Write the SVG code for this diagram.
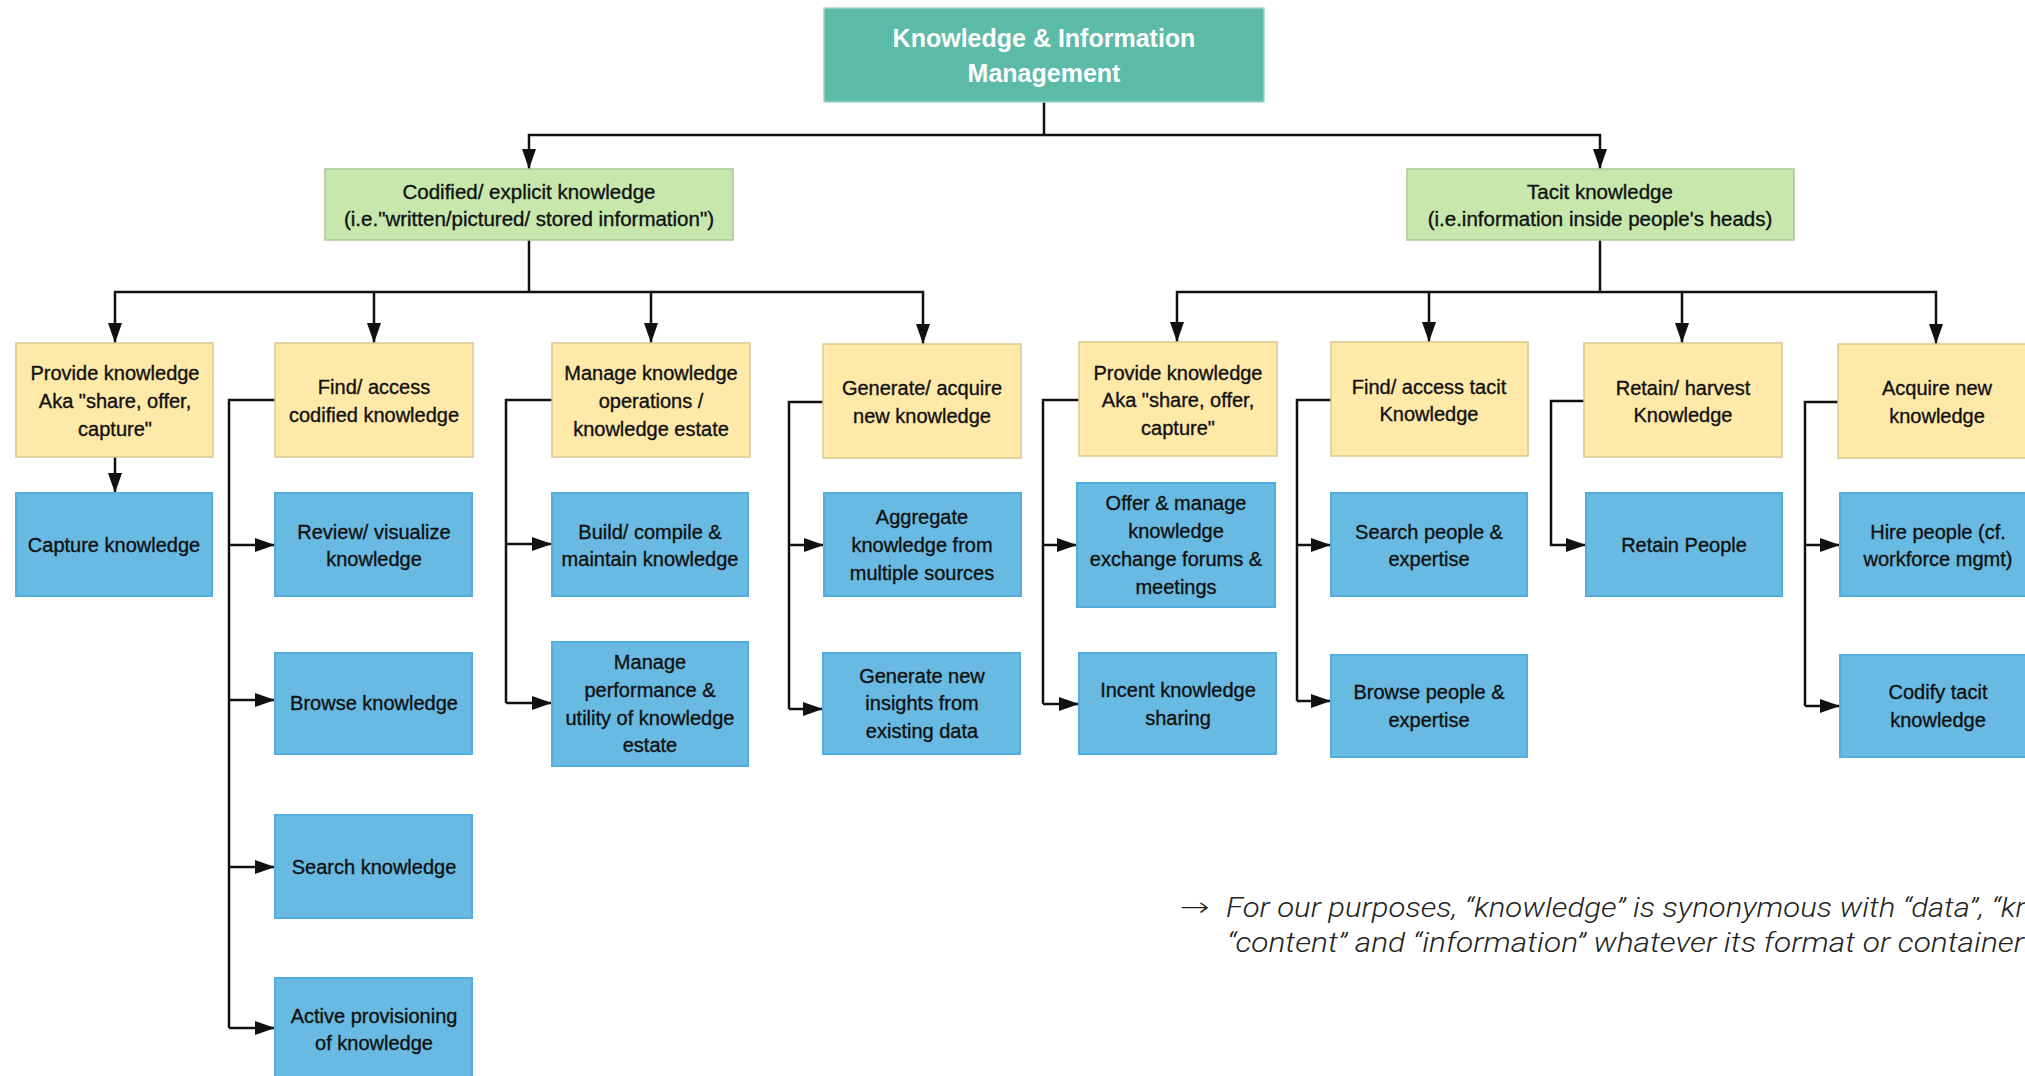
<svg xmlns="http://www.w3.org/2000/svg" width="2025" height="1076" viewBox="0 0 2025 1076">
<style>
.top{fill:#5BBBA7;stroke:#A9D2C8;stroke-width:1.5}
.grn{fill:#C6E8AC;stroke:#A9C996;stroke-width:1.5}
.yel{fill:#FFE9A8;stroke:#D9C790;stroke-width:1.5}
.blu{fill:#68BAE2;stroke:#52AEDC;stroke-width:2}
text{font-family:"Liberation Sans",Arial,sans-serif;font-size:20px;fill:#111;stroke:#111;stroke-width:0.35;text-anchor:middle}
.tt{font-size:25px;font-weight:bold;fill:#fff;stroke:none}
.gt{font-size:20.5px}
.note{font-family:Roboto,"Liberation Sans",sans-serif;font-size:28px;font-style:italic;font-weight:300;text-anchor:start;fill:#222;stroke:none}
.arr{font-family:"DejaVu Sans",sans-serif;font-size:26px;font-weight:300;text-anchor:start;fill:#222;stroke:none}
.c{fill:none;stroke:#111;stroke-width:2.5}
.a{fill:none;stroke:#111;stroke-width:2.5;marker-end:url(#ah)}
</style>
<defs>
<marker id="ah" markerUnits="userSpaceOnUse" markerWidth="20" markerHeight="14" refX="20" refY="7" orient="auto">
<path d="M0,0 L20,7 L0,14 z" fill="#111"/>
</marker>
</defs>
<rect width="2025" height="1076" fill="#fff"/>

<g id="connectors">
<path class="c" d="M1044,102 V135"/>
<path class="a" d="M1044,135 H529 V169"/>
<path class="a" d="M1044,135 H1600 V169"/>
<path class="c" d="M529,240 V292"/>
<path class="a" d="M529,292 H115 V343"/>
<path class="a" d="M374,292 V343"/>
<path class="a" d="M529,292 H651 V343"/>
<path class="a" d="M651,292 H923 V344"/>
<path class="c" d="M1600,240 V292"/>
<path class="a" d="M1600,292 H1177 V342"/>
<path class="a" d="M1429,292 V342"/>
<path class="a" d="M1600,292 H1682 V343"/>
<path class="a" d="M1682,292 H1936 V344"/>
<path class="a" d="M115,457 V493"/>
<path class="c" d="M275,400 H229 V1028"/>
<path class="a" d="M229,545 H275"/>
<path class="a" d="M229,700 H275"/>
<path class="a" d="M229,867 H275"/>
<path class="a" d="M229,1028 H275"/>
<path class="c" d="M552,400 H506 V703"/>
<path class="a" d="M506,544 H552"/>
<path class="a" d="M506,703 H552"/>
<path class="c" d="M823,402 H789 V709"/>
<path class="a" d="M789,545 H824"/>
<path class="a" d="M789,709 H823"/>
<path class="c" d="M1079,400 H1043 V704"/>
<path class="a" d="M1043,545 H1077"/>
<path class="a" d="M1043,704 H1079"/>
<path class="c" d="M1331,400 H1297 V701"/>
<path class="a" d="M1297,545 H1331"/>
<path class="a" d="M1297,701 H1331"/>
<path class="a" d="M1584,401 H1551 V545 H1586"/>
<path class="c" d="M1838,402 H1805 V706"/>
<path class="a" d="M1805,545 H1840"/>
<path class="a" d="M1805,706 H1840"/>
</g>

<g id="n-root"><rect class="top" x="824" y="8" width="440" height="94"/>
<text class="tt" x="1044" y="47">Knowledge &amp; Information</text>
<text class="tt" x="1044" y="82">Management</text></g>

<g id="n-codified"><rect class="grn" x="325" y="169" width="408" height="71"/>
<text class="gt" x="529" y="199">Codified/ explicit knowledge</text>
<text class="gt" x="529" y="226">(i.e."written/pictured/ stored information")</text></g>

<g id="n-tacit"><rect class="grn" x="1407" y="169" width="387" height="71"/>
<text class="gt" x="1600" y="199">Tacit knowledge</text>
<text class="gt" x="1600" y="226">(i.e.information inside people's heads)</text></g>

<g id="n-provide-c"><rect class="yel" x="16" y="343" width="197" height="114"/>
<text x="115" y="380">Provide knowledge</text>
<text x="115" y="408">Aka "share, offer,</text>
<text x="115" y="436">capture"</text></g>

<g id="n-find-c"><rect class="yel" x="275" y="343" width="198" height="114"/>
<text x="374" y="394">Find/ access</text>
<text x="374" y="422">codified knowledge</text></g>

<g id="n-manage-ops"><rect class="yel" x="552" y="343" width="198" height="114"/>
<text x="651" y="380">Manage knowledge</text>
<text x="651" y="408">operations /</text>
<text x="651" y="436">knowledge estate</text></g>

<g id="n-generate"><rect class="yel" x="823" y="344" width="198" height="114"/>
<text x="922" y="395">Generate/ acquire</text>
<text x="922" y="423">new knowledge</text></g>

<g id="n-provide-t"><rect class="yel" x="1079" y="342" width="198" height="114"/>
<text x="1178" y="380">Provide knowledge</text>
<text x="1178" y="407">Aka "share, offer,</text>
<text x="1178" y="435">capture"</text></g>

<g id="n-find-t"><rect class="yel" x="1331" y="342" width="197" height="114"/>
<text x="1429" y="394">Find/ access tacit</text>
<text x="1429" y="421">Knowledge</text></g>

<g id="n-retain-h"><rect class="yel" x="1584" y="343" width="198" height="114"/>
<text x="1683" y="395">Retain/ harvest</text>
<text x="1683" y="422">Knowledge</text></g>

<g id="n-acquire"><rect class="yel" x="1838" y="344" width="198" height="114"/>
<text x="1937" y="395">Acquire new</text>
<text x="1937" y="423">knowledge</text></g>

<g id="n-capture"><rect class="blu" x="16" y="493" width="196" height="103"/>
<text x="114" y="552">Capture knowledge</text></g>

<g id="n-review"><rect class="blu" x="275" y="493" width="197" height="103"/>
<text x="374" y="539">Review/ visualize</text>
<text x="374" y="566">knowledge</text></g>

<g id="n-browse-k"><rect class="blu" x="275" y="653" width="197" height="101"/>
<text x="374" y="710">Browse knowledge</text></g>

<g id="n-search-k"><rect class="blu" x="275" y="815" width="197" height="103"/>
<text x="374" y="874">Search knowledge</text></g>

<g id="n-active"><rect class="blu" x="275" y="978" width="197" height="103"/>
<text x="374" y="1023">Active provisioning</text>
<text x="374" y="1050">of knowledge</text></g>

<g id="n-build"><rect class="blu" x="552" y="493" width="196" height="103"/>
<text x="650" y="539">Build/ compile &amp;</text>
<text x="650" y="566">maintain knowledge</text></g>

<g id="n-perf"><rect class="blu" x="552" y="642" width="196" height="124"/>
<text x="650" y="669">Manage</text>
<text x="650" y="697">performance &amp;</text>
<text x="650" y="725">utility of knowledge</text>
<text x="650" y="752">estate</text></g>

<g id="n-aggregate"><rect class="blu" x="824" y="493" width="197" height="103"/>
<text x="922" y="524">Aggregate</text>
<text x="922" y="552">knowledge from</text>
<text x="922" y="580">multiple sources</text></g>

<g id="n-insights"><rect class="blu" x="823" y="653" width="197" height="101"/>
<text x="922" y="683">Generate new</text>
<text x="922" y="710">insights from</text>
<text x="922" y="738">existing data</text></g>

<g id="n-offer"><rect class="blu" x="1077" y="483" width="198" height="124"/>
<text x="1176" y="510">Offer &amp; manage</text>
<text x="1176" y="538">knowledge</text>
<text x="1176" y="566">exchange forums &amp;</text>
<text x="1176" y="594">meetings</text></g>

<g id="n-incent"><rect class="blu" x="1079" y="653" width="197" height="101"/>
<text x="1178" y="697">Incent knowledge</text>
<text x="1178" y="725">sharing</text></g>

<g id="n-search-p"><rect class="blu" x="1331" y="493" width="196" height="103"/>
<text x="1429" y="539">Search people &amp;</text>
<text x="1429" y="566">expertise</text></g>

<g id="n-browse-p"><rect class="blu" x="1331" y="655" width="196" height="102"/>
<text x="1429" y="699">Browse people &amp;</text>
<text x="1429" y="727">expertise</text></g>

<g id="n-retain-p"><rect class="blu" x="1586" y="493" width="196" height="103"/>
<text x="1684" y="552">Retain People</text></g>

<g id="n-hire"><rect class="blu" x="1840" y="493" width="198" height="103"/>
<text x="1938" y="539">Hire people (cf.</text>
<text x="1938" y="566">workforce mgmt)</text></g>

<g id="n-codify"><rect class="blu" x="1840" y="655" width="198" height="102"/>
<text x="1938" y="699">Codify tacit</text>
<text x="1938" y="727">knowledge</text></g>

<g id="note">
<text class="arr" x="1180" y="916" textLength="30" lengthAdjust="spacingAndGlyphs">→</text>
<text class="note" x="1226" y="917" textLength="806" lengthAdjust="spacingAndGlyphs">For our purposes, “knowledge” is synonymous with “data”, “kn</text>
<text class="note" x="1227" y="952" textLength="797" lengthAdjust="spacingAndGlyphs">“content” and “information” whatever its format or container</text>
</g>
</svg>
